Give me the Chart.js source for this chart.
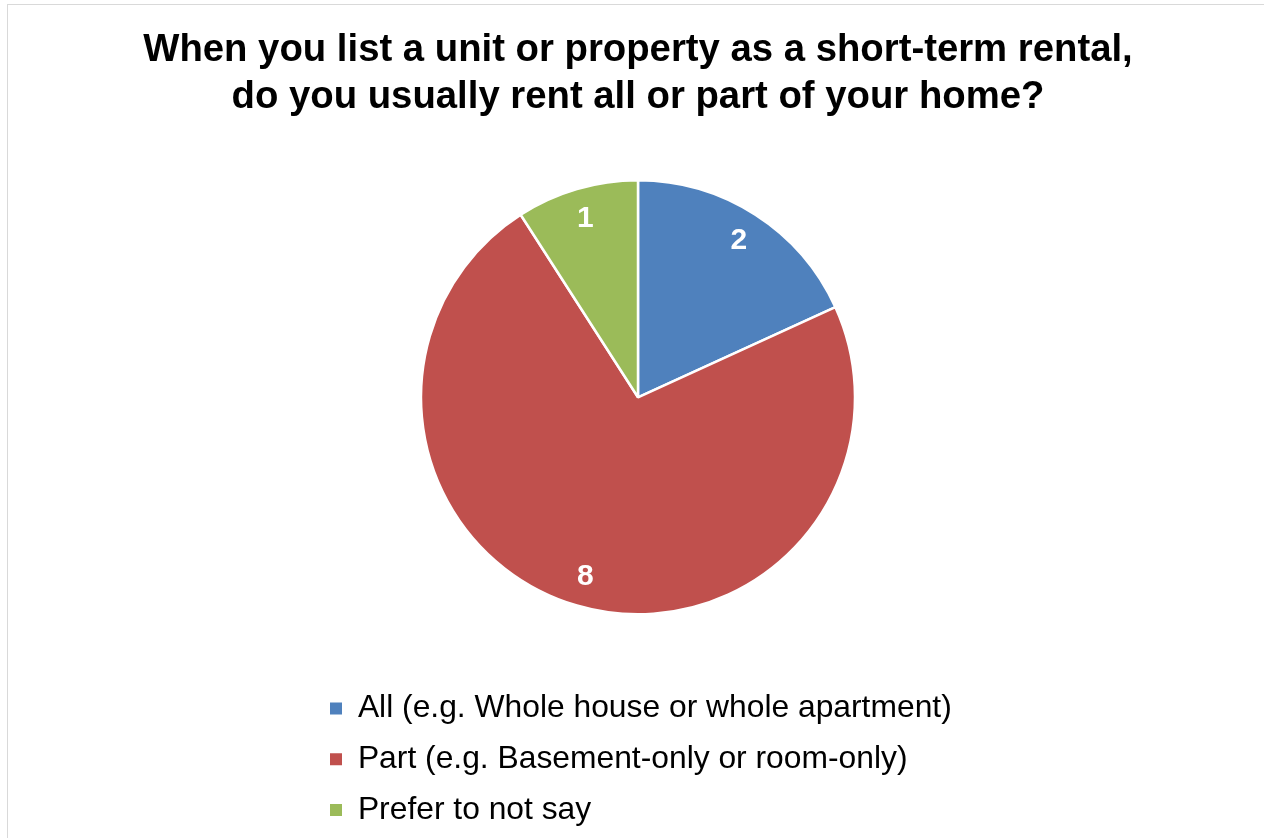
<!DOCTYPE html>
<html>
<head>
<meta charset="utf-8">
<script src="https://cdn.jsdelivr.net/npm/chart.js@4/dist/chart.umd.min.js"></script>
<style>
    html, body { margin: 0; padding: 0; background: #fff; overflow: hidden; }
    .frame {
        position: absolute; left: 7px; top: 4px;
        width: 1400px; height: 1000px;
        border: 1px solid #d9d9d9;
    }
    .chart-box {
        position: absolute; left: 0; top: 0;
        width: 1264px; height: 838px;
    }
    .chart-title {
        position: absolute; left: 6px; top: 24px; width: 1264px;
        margin: 0;
        text-align: center;
        font: bold 38.3px/47px "Liberation Sans", Arial, sans-serif;
        color: #000;
    }
</style>
</head>
<body>
<div class="frame"></div>
<div class="chart-box"><canvas id="rentalChart"></canvas></div>
<h1 class="chart-title" id="chartTitle"></h1>
<script>
const titleLines = [
    'When you list a unit or property as a short-term rental,',
    'do you usually rent all or part of your home?'
];
const categories = [
    'All (e.g. Whole house or whole apartment)',
    'Part (e.g. Basement-only or room-only)',
    'Prefer to not say'
];
const responses = [2, 8, 1];
const sliceColors = ['#4f81bd', '#c0504d', '#9bbb59'];

// title sits above the canvas so the wide padding used for the legend doesn't squeeze it
const titleEl = document.getElementById('chartTitle');
titleLines.forEach((line, i) => {
    if (i > 0) titleEl.appendChild(document.createElement('br'));
    titleEl.appendChild(document.createTextNode(line));
});

// white counts drawn inside each slice
const sliceLabels = {
    id: 'sliceLabels',
    afterDatasetsDraw(chart) {
        const ctx = chart.ctx;
        const meta = chart.getDatasetMeta(0);
        ctx.save();
        ctx.fillStyle = '#ffffff';
        ctx.font = 'bold 30px "Liberation Sans", Arial, sans-serif';
        ctx.textAlign = 'center';
        ctx.textBaseline = 'middle';
        meta.data.forEach((arc, i) => {
            const p = arc.getProps(['x', 'y', 'startAngle', 'endAngle', 'outerRadius'], true);
            const mid = (p.startAngle + p.endAngle) / 2;
            const r = p.outerRadius * 0.86;
            ctx.fillText(String(responses[i]), p.x + Math.cos(mid) * r, p.y + Math.sin(mid) * r);
        });
        ctx.restore();
    }
};

new Chart(document.getElementById('rentalChart'), {
    type: 'pie',
    data: {
        labels: categories,
        datasets: [{
            data: responses,
            backgroundColor: sliceColors,
            borderColor: '#ffffff',
            borderWidth: 2.5,
            radius: 217
        }]
    },
    options: {
        responsive: true,
        maintainAspectRatio: false,
        animation: false,
        layout: {
            padding: { left: 311, right: 299, top: 121, bottom: 2 }
        },
        plugins: {
            title: { display: false },
            legend: {
                position: 'bottom',
                align: 'start',
                labels: {
                    color: '#000000',
                    boxWidth: 12,
                    boxHeight: 12,
                    padding: 19,
                    font: {
                        family: '"Liberation Sans", Arial, sans-serif',
                        size: 31.8
                    },
                    generateLabels(chart) {
                        return categories.map((text, i) => ({
                            text,
                            fillStyle: sliceColors[i],
                            strokeStyle: sliceColors[i],
                            lineWidth: 0,
                            hidden: false,
                            index: i
                        }));
                    }
                }
            },
            tooltip: { enabled: false }
        }
    },
    plugins: [sliceLabels]
});
</script>
</body>
</html>
